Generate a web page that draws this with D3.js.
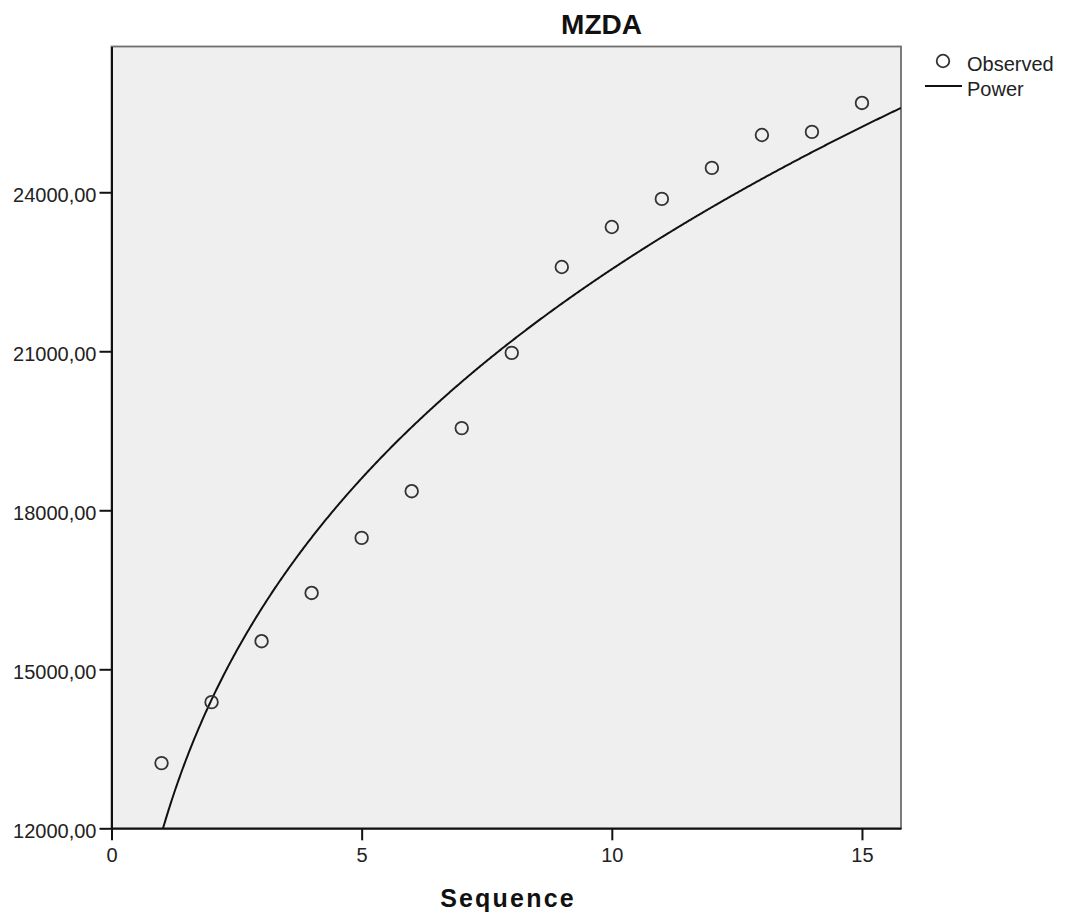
<!DOCTYPE html>
<html>
<head>
<meta charset="utf-8">
<script src="https://cdn.jsdelivr.net/npm/d3@7"></script>
<style>
  html, body { margin: 0; padding: 0; background: #ffffff; }
  svg { display: block; }
  text { font-family: "Liberation Sans", Arial, sans-serif; }
</style>
</head>
<body>
<svg id="chart" width="1067" height="920"></svg>
<script>
// ---- data ----
const sequence = [1, 2, 3, 4, 5, 6, 7, 8, 9, 10, 11, 12, 13, 14, 15];
const observed = [13230, 14380, 15530, 16440, 17480, 18360, 19550, 20970,
                  22590, 23345, 23875, 24460, 25080, 25140, 25685];
// Power model y = a * x^b (coefficients)
const powerA = 11902;
const powerB = 0.2775;
const xTicks = [0, 5, 10, 15];
const yTicks = [12000, 15000, 18000, 21000, 24000];
const title = "MZDA";
const xTitle = "Sequence";
const legendLabels = ["Observed", "Power"];

// ---- layout ----
const svg = d3.select("#chart");
const plot = { left: 111.5, top: 46.5, right: 901, bottom: 828.3 };

const x = d3.scaleLinear().domain([0, 15.78]).range([plot.left, plot.right]);
const y = d3.scaleLinear().domain([12000, 26750]).range([plot.bottom, plot.top]);

const fmt = v => d3.format(".2f")(v).replace(".", ",");

// background
svg.append("rect")
  .attr("x", plot.left).attr("y", plot.top)
  .attr("width", plot.right - plot.left).attr("height", plot.bottom - plot.top)
  .attr("fill", "#efefef")
  .attr("stroke", "#6e6e6e").attr("stroke-width", 1.8);

svg.append("clipPath").attr("id", "clip")
  .append("rect")
  .attr("x", plot.left).attr("y", plot.top)
  .attr("width", plot.right - plot.left).attr("height", plot.bottom - plot.top);

// power curve
const curveX = d3.range(0.9, 15.8, 0.02).concat([15.78]);
const line = d3.line()
  .x(d => x(d))
  .y(d => y(powerA * Math.pow(d, powerB)));
svg.append("path")
  .datum(curveX)
  .attr("clip-path", "url(#clip)")
  .attr("d", line)
  .attr("fill", "none")
  .attr("stroke", "#111")
  .attr("stroke-width", 2);

// observed points
svg.append("g").selectAll("circle")
  .data(sequence)
  .join("circle")
  .attr("cx", (d) => x(d))
  .attr("cy", (d, i) => y(observed[i]))
  .attr("r", 6.3)
  .attr("fill", "none")
  .attr("stroke", "#333")
  .attr("stroke-width", 1.8);

// axes
const yAxis = d3.axisLeft(y).tickValues(yTicks).tickFormat(fmt)
  .tickSizeInner(12).tickSizeOuter(0).tickPadding(3);
const gy = svg.append("g").attr("transform", `translate(${plot.left},0)`).call(yAxis);
gy.select(".domain").attr("stroke", "#111").attr("stroke-width", 2);
gy.selectAll(".tick line").attr("stroke", "#111").attr("stroke-width", 2);
gy.selectAll(".tick text")
  .attr("font-size", 20).attr("fill", "#222")
  .attr("font-family", "'Liberation Sans', Arial, sans-serif")
  .attr("dy", "0.48em");

const xAxis = d3.axisBottom(x).tickValues(xTicks).tickFormat(d3.format("d"))
  .tickSizeInner(12).tickSizeOuter(0).tickPadding(8);
const gx = svg.append("g").attr("transform", `translate(0,${plot.bottom})`).call(xAxis);
gx.select(".domain").attr("stroke", "#111").attr("stroke-width", 2);
gx.selectAll(".tick line").attr("stroke", "#111").attr("stroke-width", 2);
gx.selectAll(".tick text")
  .attr("font-size", 20).attr("fill", "#222")
  .attr("font-family", "'Liberation Sans', Arial, sans-serif");

// titles
svg.append("text")
  .attr("x", 601.5).attr("y", 34.3)
  .attr("text-anchor", "middle")
  .attr("font-size", 28).attr("font-weight", "bold").attr("fill", "#111")
  .text(title);

svg.append("text")
  .attr("x", 508).attr("y", 907)
  .attr("text-anchor", "middle")
  .attr("font-size", 25).attr("font-weight", "bold").attr("fill", "#111")
  .attr("letter-spacing", "2.2px")
  .text(xTitle);

// legend
const lg = svg.append("g");
lg.append("circle").attr("cx", 943).attr("cy", 61).attr("r", 6.3)
  .attr("fill", "none").attr("stroke", "#333").attr("stroke-width", 1.8);
lg.append("text").attr("x", 967).attr("y", 70.5)
  .attr("font-size", 20).attr("fill", "#222").text(legendLabels[0]);
lg.append("line").attr("x1", 925).attr("x2", 962).attr("y1", 86).attr("y2", 86)
  .attr("stroke", "#111").attr("stroke-width", 2);
lg.append("text").attr("x", 967).attr("y", 95.5)
  .attr("font-size", 20).attr("fill", "#222").text(legendLabels[1]);
</script>
</body>
</html>
